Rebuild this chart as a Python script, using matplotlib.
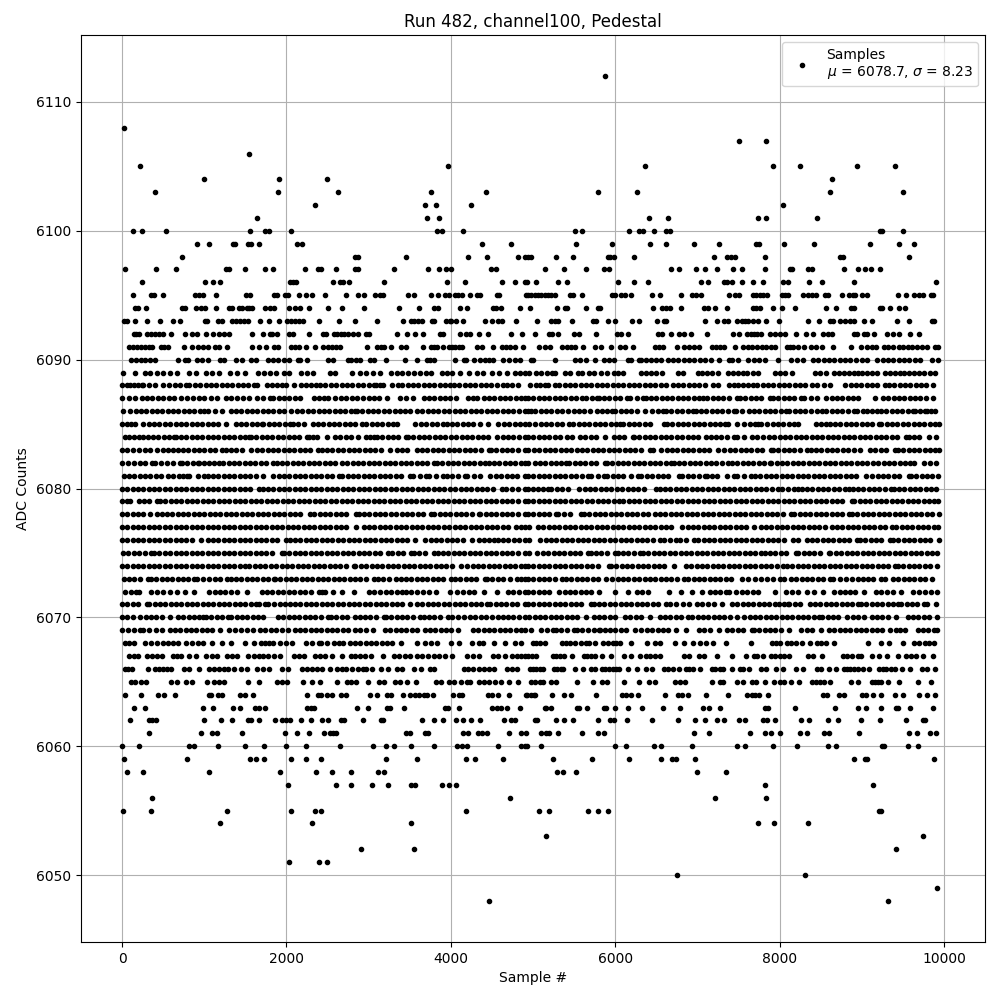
import matplotlib
matplotlib.use('Agg')
from matplotlib import pyplot as plt

# sample numbers, one list per ADC level
s6112 = [5875]
s6108 = [20]
s6107 = [7502,7839]
s6106 = [1550]
s6105 = [213,3960,6357,7924,8249,8948,9405]
s6104 = [996,1912,2490,8634]
s6103 = [406,1900,2622,3755,4430,5791,6261,8610,9502]
s6102 = [2345,3683,3815,4250,8044]
s6101 = [1647,3707,3851,6406,6647,7743,7839,8454]
s6100 = [128,237,538,1562,1743,1791,2056,3827,3887,4152,5514,5598,6165,6285,6333,6478,6622,6671,9225,9249,9502]
s6099 = [912,1056,1345,1370,1526,1574,1671,2128,2189,4381,4731,5526,5960,6418,6622,6960,7261,7719,7755,8056,8418,9104,9454,9634]
s6098 = [731,2839,2875,3454,4213,4442,4815,4900,4944,4980,5285,5490,5912,5936,5984,6225,7201,7357,7405,7454,7827,8740,8770,9574]
s6097 = [32,418,659,1261,1297,1490,1743,1839,2225,2381,2417,2598,2839,2875,3309,3719,3851,3936,4008,4490,4550,5141,5382,5647,5863,5924,6683,6779,6984,7092,7237,7430,7538,7827,8130,8153,8345,8394,8783,8960,9044,9116,9225]
s6096 = [237,1008,1104,1189,2044,2080,2116,2562,2647,2683,2767,3189,3948,4177,4622,4779,4900,4932,5032,5309,5418,6032,6225,6394,7044,7128,7321,7357,7418,7538,7671,7803,8044,8104,8357,8514,8912,9900]
s6095 = [128,357,394,502,888,936,984,1141,1502,1562,1851,1887,1984,2020,2153,2237,2309,2466,2719,2875,2948,3080,3141,3177,3478,3550,3755,3839,3924,3972,4056,4092,4140,4237,4321,4357,4562,4590,4912,4940,4980,5020,5060,5100,5140,5180,5220,5273,5454,5490,5598,5960,5996,6068,6116,6189,6442,6550,6803,6936,6984,7044,7381,7454,7502,7677,7719,7767,7803,7851,8032,8068,8104,8289,8349,8397,8442,8550,8586,8755,8840,8888,8924,9008,9068,9442,9538,9634,9695,9743,9840,9863]
s6094 = [153,189,285,731,767,900,960,1008,1141,1297,1333,1418,1454,1514,1550,1586,1743,1803,1851,2032,2104,2165,2273,2502,2671,2948,3369,3610,3791,3839,4116,4201,4514,4550,4610,4839,4960,5297,5394,5418,5647,5791,5815,6466,6574,6622,6671,6803,7080,7128,7213,7357,7677,7719,7767,7924,8032,8189,8562,8683,8865,8900,9225,9249,9345,9454,9526]
s6093 = [20,56,153,309,466,622,707,1008,1032,1165,1213,1333,1380,1430,1478,1526,1679,1791,1912,2008,2056,2104,2153,2201,2393,2634,2839,3104,3418,3514,3550,3598,3646,3767,3791,3936,3984,4008,4068,4152,4418,4502,4574,4622,4791,5044,5225,5273,5309,5478,5731,5767,5912,5996,6201,6285,6514,6598,6622,7092,7237,7321,7369,7478,7542,7574,7622,7683,7743,7839,7996,8345,8478,8610,8647,8735,8795,8855,8912,9032,9128,9430,9574,9851,9875]
s6092 = [140,170,205,309,357,405,453,501,598,767,851,912,1020,1104,1177,1237,1297,1586,1719,1803,1827,1887,2032,2080,2273,2442,2478,2574,2620,2660,2700,2743,2815,2875,2972,3008,3345,3466,3562,3658,3864,3900,4116,4189,4237,4345,4454,4731,4863,5020,5189,5237,5309,5502,5562,5767,6020,6068,6153,6526,6574,6683,6779,6839,6924,7116,7430,7502,7610,7650,7690,7730,7780,7888,7948,8008,8068,8197,8321,8405,8525,8586,8634,8900,8948,9032,9068,9153,9310,9382,9454,9586,9695]
s6091 = [80,130,180,230,280,330,360,470,515,560,755,845,925,985,1040,1125,1175,1275,1585,1665,1755,1850,1900,2050,2100,2150,2235,2345,2450,2500,2550,2600,2650,2985,3105,3145,3185,3275,3395,3455,3660,3755,3795,3835,3900,3975,4015,4055,4095,4135,4315,4375,4515,4620,4670,4725,4780,4875,5072,5140,5210,5355,5410,5460,5515,5610,5755,5827,5945,6055,6115,6215,6480,6530,6585,6755,6840,6900,6960,7020,7180,7230,7280,7320,7455,7550,7620,7670,7720,7790,7840,7890,7945,8085,8125,8165,8225,8300,8380,8440,8515,8650,8865,8995,9070,9120,9170,9270,9325,9380,9450,9505,9560,9610,9670,9730,9790,9890,9930]
s6090 = [110,170,225,280,335,400,680,760,800,910,975,1040,1190,1245,1390,1465,1565,1630,1780,1840,1900,1965,2030,2140,2170,2250,2510,2570,2745,2790,2850,2900,3020,3070,3210,3440,3585,3705,3750,3800,4045,4155,4190,4285,4360,4420,4470,4515,4640,4710,4775,4840,4975,5005,5265,5515,5575,5645,5755,5865,5925,5985,6155,6195,6285,6310,6375,6440,6500,6555,6640,6705,6770,6835,6900,6965,7030,7095,7160,7260,7380,7420,7500,7620,7685,7750,7820,7985,8145,8215,8285,8405,8470,8535,8600,8665,8730,8795,8860,8925,9000,9070,9190,9255,9320,9385,9450,9515,9580,9645,9710,9850,9925]
s6089 = [10,153,273,340,422,502,580,663,815,904,1024,1100,1177,1317,1400,1490,1659,1730,1800,1870,1968,2028,2177,2250,2329,2530,2590,2803,2892,2970,3050,3133,3273,3340,3410,3480,3550,3625,3695,3755,3896,3948,4016,4116,4217,4317,4397,4506,4590,4679,4779,4840,4900,4950,5040,5100,5170,5230,5270,5390,5450,5550,5600,5680,5740,5830,5900,5980,6040,6090,6310,6380,6440,6500,6570,6770,6830,7010,7060,7120,7180,7250,7370,7430,7490,7550,7610,7680,7740,7950,8010,8070,8150,8430,8490,8570,8660,8720,8780,8840,8900,8950,9000,9060,9130,9190,9280,9340,9400,9460,9520,9580,9640,9700,9760,9830,9890]
s6088 = [0,60,100,140,190,240,260,330,400,500,570,640,710,780,820,885,950,1015,1080,1145,1210,1275,1340,1405,1470,1535,1600,1640,1760,1820,1880,1950,2000,2090,2180,2240,2300,2360,2410,2475,2540,2605,2670,2735,2800,2865,2930,3000,3070,3090,3135,3180,3280,3360,3410,3475,3540,3605,3670,3735,3800,3865,3930,3990,4040,4105,4170,4235,4300,4365,4430,4495,4560,4640,4680,4750,4820,4960,5040,5080,5140,5180,5270,5320,5385,5450,5515,5580,5645,5710,5775,5840,5905,5970,6035,6100,6165,6230,6295,6360,6425,6490,6555,6620,6700,6765,6830,6895,6960,7025,7090,7190,7250,7384,7440,7500,7560,7620,7680,7730,7795,7860,7925,7990,8055,8120,8185,8250,8315,8400,8456,8540,8620,8800,8865,8930,8995,9060,9125,9190,9280,9330,9395,9460,9525,9590,9655,9720,9785,9870]
s6087 = [0,80,160,240,305,370,435,500,565,630,720,790,860,930,1000,1080,1160,1260,1330,1400,1470,1540,1640,1720,1800,1840,1905,1970,2035,2100,2160,2340,2400,2460,2500,2590,2660,2730,2800,2860,2930,3000,3060,3128,3228,3380,3460,3540,3670,3735,3800,3865,3930,3995,4060,4210,4270,4320,4400,4465,4530,4595,4660,4725,4790,4855,4900,4940,5005,5070,5135,5200,5265,5330,5395,5460,5525,5600,5650,5715,5780,5800,5865,5930,5995,6060,6140,6180,6260,6340,6370,6435,6500,6565,6630,6695,6760,6825,6890,6955,7020,7070,7120,7185,7250,7315,7380,7480,7520,7585,7650,7715,7780,7880,7920,7985,8050,8115,8180,8260,8300,8380,8460,8570,8635,8700,8765,8830,8895,8960,9160,9260,9325,9390,9455,9520,9585,9650,9715,9780,9870]
s6086 = [10,100,165,230,295,360,425,490,555,620,685,750,815,880,945,1000,1040,1130,1220,1320,1385,1450,1515,1580,1645,1710,1775,1840,1905,1970,2050,2130,2195,2260,2325,2390,2455,2520,2585,2650,2715,2780,2830,2860,2925,2990,3055,3120,3185,3250,3315,3380,3445,3500,3590,3655,3720,3785,3850,3915,3980,4045,4110,4175,4240,4305,4370,4435,4500,4565,4630,4695,4760,4825,4900,4940,4975,5030,5095,5160,5220,5295,5350,5425,5500,5560,5625,5690,5780,5840,5900,5960,6000,6065,6130,6195,6260,6360,6450,6515,6580,6620,6685,6750,6815,6880,6950,6980,7045,7110,7175,7240,7305,7370,7440,7470,7540,7625,7690,7755,7820,7885,7950,8015,8075,8120,8185,8250,8315,8380,8460,8515,8570,8635,8700,8765,8830,8900,8940,9020,9060,9125,9190,9240,9300,9365,9430,9495,9560,9620,9650,9710,9770,9800,9845,9890]
s6085 = [0,55,110,160,260,325,390,455,520,585,650,715,780,845,910,975,1040,1105,1170,1260,1380,1445,1510,1575,1640,1700,1720,1785,1850,1915,1980,2040,2080,2140,2210,2320,2385,2450,2515,2580,2645,2710,2775,2840,2920,2970,3035,3100,3165,3230,3295,3340,3570,3635,3700,3765,3830,3900,3950,4015,4080,4145,4210,4275,4350,4450,4580,4645,4710,4775,4840,4900,4950,5030,5095,5160,5225,5290,5355,5440,5490,5555,5620,5685,5750,5815,5880,5945,6010,6060,6100,6165,6230,6295,6360,6425,6590,6630,6695,6760,6825,6890,6955,7020,7085,7150,7215,7280,7340,7370,7480,7570,7640,7700,7740,7780,7850,7915,7980,8045,8110,8175,8220,8440,8510,8570,8610,8675,8740,8805,8870,8935,9000,9065,9130,9210,9240,9305,9370,9435,9500,9565,9630,9695,9760,9825,9890,9940]
s6084 = [30,90,150,210,260,310,375,440,505,570,630,650,715,780,845,910,975,1040,1105,1170,1235,1300,1365,1430,1495,1540,1570,1635,1700,1765,1830,1895,1960,2025,2090,2155,2250,2270,2320,2370,2490,2590,2655,2725,2790,2870,2970,3020,3070,3100,3165,3230,3295,3360,3450,3480,3545,3610,3675,3740,3805,3870,3935,4000,4065,4130,4195,4260,4325,4390,4455,4560,4630,4695,4760,4825,4900,4940,5005,5070,5135,5200,5265,5330,5410,5480,5570,5635,5700,5765,5880,5980,6045,6110,6215,6230,6295,6360,6425,6490,6555,6620,6685,6750,6815,6880,6945,7010,7100,7160,7225,7290,7355,7450,7480,7570,7660,7730,7800,7870,7935,8000,8065,8130,8195,8260,8325,8390,8455,8520,8585,8650,8715,8780,8845,8910,8975,9040,9105,9170,9235,9300,9365,9430,9540,9570,9635,9700,9820,9900]
s6083 = [0,65,130,210,275,340,420,500,560,620,680,740,805,870,935,1000,1065,1130,1220,1260,1325,1390,1455,1570,1640,1705,1770,1835,1900,1965,2030,2095,2160,2225,2290,2380,2430,2495,2560,2625,2690,2755,2820,2885,2950,3015,3080,3145,3260,3340,3405,3470,3590,3650,3715,3780,3845,3910,3975,4040,4105,4170,4235,4300,4365,4460,4490,4555,4620,4685,4750,4815,4900,4940,5010,5075,5140,5205,5270,5335,5400,5465,5530,5595,5660,5725,5790,5855,5920,5985,6050,6115,6180,6245,6310,6420,6460,6560,6625,6690,6755,6820,6885,6950,7015,7080,7145,7250,7330,7395,7460,7525,7590,7655,7720,7785,7900,7920,7985,8050,8115,8180,8245,8340,8380,8445,8510,8575,8640,8705,8770,8835,8900,8980,9100,9165,9230,9295,9400,9440,9505,9570,9635,9700,9765,9830,9895,9940]
s6082 = [0,70,140,220,280,360,400,475,550,625,700,730,790,860,920,940,1000,1060,1120,1180,1230,1295,1360,1425,1490,1555,1620,1685,1750,1840,1880,1945,2010,2075,2140,2205,2270,2335,2400,2465,2530,2595,2670,2740,2805,2870,2935,3000,3065,3130,3195,3260,3325,3390,3455,3520,3585,3650,3715,3790,3830,3895,3960,4025,4090,4155,4220,4285,4350,4420,4460,4525,4590,4655,4720,4785,4850,4900,4940,5020,5085,5150,5215,5280,5340,5400,5440,5505,5570,5635,5700,5765,5880,5900,5965,6030,6095,6160,6225,6290,6355,6420,6485,6550,6615,6680,6710,6775,6840,6905,6970,7035,7100,7165,7230,7300,7370,7420,7485,7550,7615,7680,7745,7810,7880,7900,7965,8030,8095,8160,8225,8290,8355,8420,8485,8550,8615,8680,8745,8810,8875,8940,9005,9070,9135,9200,9265,9330,9395,9460,9525,9590,9640,9760,9830,9900]
s6081 = [20,85,150,215,280,345,410,475,560,620,690,740,790,820,920,1000,1040,1105,1170,1235,1300,1365,1430,1495,1560,1625,1720,1840,1905,1970,2035,2100,2165,2230,2295,2360,2425,2490,2555,2640,2680,2745,2810,2875,2940,3005,3070,3135,3200,3265,3330,3395,3500,3540,3620,3700,3740,3825,3910,3950,4015,4090,4170,4200,4280,4360,4480,4550,4615,4680,4745,4810,4900,4940,5005,5070,5135,5200,5265,5330,5395,5460,5525,5600,5670,5710,5785,5860,5900,5970,6040,6100,6190,6280,6320,6385,6450,6515,6580,6645,6780,6810,6880,6950,7020,7090,7120,7180,7240,7360,7440,7480,7565,7650,7700,7765,7830,7895,7960,8025,8090,8155,8220,8285,8350,8415,8480,8545,8610,8675,8740,8805,8870,8935,9050,9130,9195,9260,9325,9390,9455,9570,9600,9665,9730,9795,9860,9930]
s6080 = [0,65,130,195,260,325,390,455,520,585,650,715,780,845,910,975,1040,1105,1170,1235,1300,1365,1430,1495,1560,1660,1710,1775,1840,1905,1970,2035,2100,2165,2230,2295,2360,2425,2490,2555,2620,2685,2750,2815,2880,2945,3010,3075,3140,3205,3270,3335,3400,3465,3530,3595,3660,3725,3790,3855,3920,3985,4050,4120,4185,4250,4315,4380,4445,4510,4620,4670,4740,4820,4900,4940,5000,5060,5120,5180,5225,5290,5355,5430,5560,5630,5695,5760,5825,5890,5955,6020,6085,6150,6215,6280,6345,6500,6540,6605,6670,6735,6800,6865,6930,6995,7060,7125,7190,7255,7320,7385,7450,7515,7580,7645,7710,7775,7840,7905,7980,8025,8100,8180,8225,8270,8335,8400,8465,8530,8595,8660,8725,8800,8840,8890,8955,9020,9085,9150,9215,9280,9360,9390,9455,9520,9585,9650,9715,9780,9845,9900]
s6079 = [0,55,100,200,265,330,420,460,525,590,655,720,785,850,915,980,1045,1110,1175,1240,1305,1370,1435,1500,1565,1630,1695,1760,1825,1890,1955,2020,2085,2150,2215,2280,2345,2410,2475,2540,2605,2670,2735,2800,2865,2930,2995,3060,3125,3190,3255,3320,3385,3450,3515,3580,3645,3710,3775,3840,3905,3970,4035,4100,4165,4230,4295,4360,4425,4490,4555,4620,4685,4750,4815,4900,4940,5005,5070,5135,5200,5265,5330,5395,5460,5525,5590,5655,5720,5785,5850,5915,5980,6045,6100,6165,6230,6295,6360,6425,6490,6555,6620,6685,6750,6815,6880,6945,7010,7075,7140,7205,7270,7335,7400,7465,7530,7595,7660,7725,7790,7855,7920,7985,8050,8115,8180,8245,8310,8375,8440,8505,8570,8635,8700,8765,8880,8910,8975,9040,9105,9170,9235,9300,9365,9430,9495,9560,9625,9690,9755,9820,9885,9930]
s6078 = [0,65,130,195,260,340,420,480,545,610,675,740,805,870,935,1000,1065,1130,1195,1260,1325,1390,1455,1520,1585,1650,1715,1780,1845,1910,1975,2040,2105,2170,2290,2340,2405,2470,2535,2600,2665,2730,2850,2880,2945,3010,3075,3140,3205,3270,3335,3400,3465,3530,3595,3660,3760,3800,3865,3930,3995,4060,4125,4190,4255,4340,4360,4425,4490,4555,4620,4685,4750,4815,4900,4940,5005,5070,5135,5200,5280,5310,5380,5450,5580,5620,5685,5750,5815,5880,5945,6010,6075,6140,6205,6270,6335,6400,6480,6545,6610,6675,6740,6805,6870,6935,7000,7065,7130,7195,7260,7325,7390,7455,7520,7585,7650,7715,7780,7845,7910,7975,8040,8140,8180,8245,8310,8375,8440,8505,8570,8635,8700,8765,8840,8880,8945,9010,9075,9140,9205,9270,9335,9400,9465,9530,9595,9660,9725,9790,9855,9940]
s6077 = [0,65,130,195,260,325,390,455,520,585,650,715,780,845,910,975,1040,1105,1170,1235,1300,1365,1430,1495,1560,1625,1690,1755,1820,1885,1950,2015,2080,2145,2210,2275,2340,2405,2470,2535,2600,2665,2730,2850,2940,3005,3070,3135,3200,3265,3330,3395,3460,3525,3590,3655,3720,3785,3850,3915,3980,4045,4110,4175,4240,4305,4370,4435,4500,4565,4630,4695,4790,4850,4900,4950,5060,5125,5190,5255,5320,5385,5450,5515,5580,5645,5710,5775,5840,5905,5970,6035,6100,6165,6230,6295,6360,6425,6490,6555,6620,6685,6810,6880,6945,7010,7075,7140,7205,7270,7335,7400,7465,7530,7595,7690,7770,7835,7900,7965,8030,8095,8160,8225,8290,8355,8420,8485,8550,8640,8700,8765,8830,8895,8960,9025,9090,9155,9220,9285,9370,9420,9485,9550,9615,9680,9745,9810,9875,9930]
s6076 = [0,65,130,195,260,325,390,455,520,585,650,715,780,845,960,1040,1105,1170,1235,1300,1365,1430,1495,1560,1625,1690,1755,1820,1885,1990,2040,2105,2170,2235,2300,2365,2430,2495,2560,2625,2690,2755,2820,2885,2950,3015,3080,3145,3210,3275,3340,3405,3470,3570,3690,3755,3820,3885,3950,4015,4080,4145,4260,4340,4400,4460,4520,4570,4635,4700,4765,4830,4900,4950,5090,5155,5220,5285,5350,5415,5480,5545,5610,5675,5740,5805,5870,5935,6000,6065,6130,6195,6260,6325,6390,6455,6540,6600,6670,6740,6790,6860,6960,7010,7075,7140,7205,7270,7335,7400,7465,7530,7595,7660,7725,7790,7855,7920,7985,8050,8160,8230,8330,8395,8460,8525,8590,8655,8720,8785,8850,8940,8980,9045,9110,9175,9240,9340,9380,9445,9510,9575,9640,9705,9770,9835,9940]
s6075 = [10,75,140,210,280,350,390,455,520,585,650,715,780,845,910,975,1040,1105,1170,1235,1300,1365,1430,1495,1560,1625,1690,1755,1820,1940,1970,2035,2100,2165,2230,2295,2360,2425,2490,2555,2620,2685,2750,2815,2880,2945,3010,3075,3140,3240,3290,3355,3420,3520,3550,3615,3680,3790,3840,3905,3970,4035,4100,4165,4230,4295,4360,4425,4490,4555,4620,4685,4750,4815,4900,4950,5050,5120,5185,5250,5315,5380,5445,5510,5575,5670,5700,5765,5830,5895,6000,6030,6095,6160,6225,6300,6340,6405,6470,6535,6600,6665,6730,6795,6860,6925,6990,7055,7120,7185,7250,7315,7380,7445,7510,7575,7640,7705,7780,7820,7885,7950,8015,8080,8200,8230,8295,8360,8425,8490,8600,8620,8685,8750,8815,8880,8945,9010,9075,9140,9205,9270,9335,9400,9465,9530,9595,9660,9725,9790,9855,9920]
s6074 = [0,65,130,195,260,325,390,455,520,585,650,715,780,845,910,975,1040,1105,1170,1235,1300,1365,1430,1500,1550,1615,1680,1745,1810,1875,1940,2005,2070,2135,2200,2265,2330,2395,2460,2525,2590,2655,2720,2820,2840,2905,2970,3035,3100,3165,3230,3295,3360,3425,3490,3555,3620,3685,3750,3815,3880,3945,4010,4120,4200,4265,4330,4395,4460,4525,4590,4655,4720,4785,4850,4900,4940,5005,5070,5135,5200,5265,5330,5395,5460,5525,5590,5655,5720,5785,5920,5950,6015,6080,6145,6210,6275,6340,6405,6470,6535,6600,6710,6860,6925,6990,7055,7120,7185,7250,7315,7380,7445,7510,7575,7640,7705,7770,7835,7900,7965,8040,8090,8155,8220,8285,8350,8415,8480,8545,8610,8675,8740,8805,8870,8935,9000,9065,9130,9195,9260,9325,9400,9440,9505,9570,9635,9700,9765,9830,9920]
s6073 = [20,85,150,215,310,350,415,480,545,610,675,740,805,880,910,985,1060,1130,1190,1280,1320,1385,1450,1515,1580,1645,1710,1775,1850,1860,1925,1990,2055,2120,2185,2250,2315,2380,2445,2510,2575,2640,2705,2770,2835,2900,2965,3060,3110,3170,3250,3330,3390,3455,3520,3585,3650,3715,3780,3845,3910,4000,4050,4115,4180,4245,4310,4420,4440,4505,4570,4635,4720,4800,4850,4900,4940,5005,5070,5135,5200,5265,5350,5400,5465,5530,5595,5660,5725,5790,5890,5960,6030,6100,6150,6230,6295,6360,6425,6490,6555,6620,6685,6750,6840,6890,6955,7020,7085,7150,7215,7280,7345,7410,7540,7620,7700,7780,7850,7920,8000,8060,8140,8205,8270,8335,8400,8465,8530,8620,8650,8730,8810,8880,8960,9010,9075,9140,9240,9280,9380,9445,9510,9575,9640,9705,9770,9860]
s6072 = [40,110,165,210,350,425,500,580,670,760,880,1060,1125,1190,1255,1320,1400,1520,1700,1765,1830,1895,1960,2025,2090,2160,2230,2300,2400,2430,2470,2570,2680,2820,3000,3070,3140,3210,3270,3340,3400,3460,3510,3585,3660,3735,3820,3990,4080,4150,4220,4280,4400,4560,4690,4760,4830,4900,4940,5005,5070,5135,5200,5320,5385,5450,5515,5580,5645,5710,5800,6000,6155,6260,6330,6400,6650,6800,6940,7060,7150,7215,7280,7345,7390,7470,7540,7610,7680,7740,7950,8080,8150,8220,8340,8420,8530,8660,8730,8800,8860,8920,9030,9170,9240,9310,9380,9480,9620,9695,9770,9845,9920]
s6071 = [0,65,130,195,300,330,395,460,525,590,655,720,785,850,915,980,1045,1110,1175,1240,1305,1370,1435,1500,1565,1630,1670,1740,1780,1850,1920,1980,2040,2105,2170,2235,2300,2365,2430,2495,2560,2625,2690,2755,2820,2885,2950,3015,3090,3150,3215,3280,3345,3410,3500,3590,3655,3720,3785,3850,3915,3980,4045,4110,4175,4240,4305,4370,4440,4480,4545,4610,4675,4740,4805,4900,4940,5005,5070,5135,5200,5265,5330,5395,5460,5525,5590,5700,5740,5805,5870,5935,6000,6065,6130,6195,6260,6325,6390,6455,6520,6620,6670,6740,6820,6900,7000,7060,7130,7200,7300,7420,7485,7550,7615,7680,7745,7810,7875,7940,7990,8050,8100,8120,8185,8250,8370,8430,8495,8560,8625,8690,8755,8820,8885,8960,8990,9055,9120,9185,9250,9315,9380,9440,9480,9545,9610,9675,9760,9800,9900]
s6070 = [0,65,130,220,285,350,415,480,580,680,745,810,875,940,990,1020,1085,1150,1215,1290,1330,1395,1460,1525,1590,1655,1720,1900,1960,2025,2090,2155,2220,2285,2350,2415,2500,2540,2605,2670,2735,2830,2890,2950,3020,3090,3190,3210,3275,3340,3405,3470,3535,3630,3670,3735,3800,3865,3960,4020,4090,4160,4230,4300,4365,4430,4500,4570,4630,4695,4760,4825,4900,4950,5020,5085,5150,5215,5280,5345,5410,5475,5540,5650,5740,5805,5870,5935,6000,6120,6185,6250,6315,6420,6540,6605,6670,6735,6800,6880,6940,7005,7070,7135,7200,7265,7330,7400,7480,7570,7635,7700,7765,7830,7900,7960,8025,8090,8155,8220,8285,8350,8415,8480,8520,8585,8650,8715,8820,8890,8960,9030,9120,9180,9250,9320,9420,9560,9625,9690,9755,9820,9920]
s6069 = [0,70,140,220,250,330,410,490,580,640,710,775,840,905,970,1035,1100,1190,1300,1375,1450,1520,1590,1680,1745,1810,1875,1940,2020,2100,2165,2230,2295,2360,2425,2490,2555,2620,2685,2750,2830,2890,2970,3050,3200,3265,3330,3395,3460,3525,3590,3680,3745,3810,3875,3940,4005,4090,4270,4335,4400,4465,4530,4595,4660,4725,4790,4855,4900,4980,5100,5170,5240,5280,5345,5410,5500,5530,5600,5670,5740,5800,5820,5880,5940,6000,6065,6130,6240,6320,6385,6450,6515,6580,6645,6740,6860,7020,7085,7150,7260,7360,7425,7490,7555,7660,7690,7755,7820,7885,7950,8015,8120,8260,8330,8400,8500,8600,8665,8730,8795,8860,8925,8990,9055,9120,9185,9250,9340,9420,9470,9530,9680,9745,9810,9875,9920]
s6068 = [30,85,140,280,350,430,500,560,620,680,780,850,920,980,1100,1220,1330,1500,1610,1690,1740,1790,1840,1920,1990,2070,2240,2315,2390,2420,2490,2580,2635,2690,2770,2835,2900,2965,3030,3095,3160,3225,3290,3390,3590,3690,3760,3830,4000,4100,4260,4340,4390,4520,4660,4780,4860,5000,5040,5090,5140,5350,5400,5450,5510,5590,5640,5680,5750,5850,5915,5970,6010,6060,6189,6390,6480,6546,6730,6840,6950,7030,7100,7185,7345,7647,7910,7960,8000,8090,8140,8200,8270,8370,8450,8510,8570,8660,9080,9240,9330,9500,9640,9700,9770,9820,9880]
s6067 = [80,140,190,300,360,420,480,620,670,720,820,900,1020,1090,1160,1280,1340,1400,1530,1600,1670,1710,1780,1850,1920,2090,2150,2210,2350,2410,2470,2550,2680,2790,2840,2890,2950,3030,3180,3310,3375,3440,3505,3590,3650,3720,3790,3860,3930,4020,4200,4270,4340,4510,4580,4660,4740,4800,4850,4900,4940,4990,5040,5240,5280,5330,5380,5480,5620,5660,5700,5760,5840,5950,6104,6189,6297,6370,6420,6490,6550,6840,6900,7020,7080,7237,7418,7586,7690,7730,7800,7900,7950,8000,8060,8120,8350,8410,8520,8770,8820,8880,8950,8990,9120,9210,9310,9442,9538,9600,9660,9740,9870]
s6066 = [30,70,115,310,400,450,500,550,600,755,820,935,1060,1120,1180,1240,1285,1365,1445,1520,1645,1715,1785,1945,2020,2190,2250,2310,2370,2430,2530,2610,2670,2730,2800,2870,2930,2970,3040,3145,3230,3345,3410,3555,3635,3745,3800,4155,4215,4275,4340,4405,4460,4520,4680,4745,4805,4960,5000,5040,5080,5120,5250,5290,5340,5370,5516,5612,5700,5755,5840,5880,5930,5970,6010,6050,6153,6269,6370,6442,6600,6640,6700,6780,6860,6900,6950,7030,7180,7220,7280,7310,7418,7520,7560,7630,7775,7840,7960,8040,8201,8289,8460,8500,8600,8683,8780,8820,8860,8900,8950,9010,9093,9210,9260,9300,9360,9400,9490,9590,9730,9790,9887]
s6065 = [105,160,225,297,598,671,779,851,1032,1120,1180,1237,1538,1671,1890,1950,2008,2201,2309,2406,2610,2731,2791,2851,2996,3129,3189,3321,3382,3466,3574,3815,3875,3972,4044,4128,4201,4237,4345,4405,4465,4540,4610,4707,4815,4980,5030,5080,5120,5213,5285,5538,5731,5840,5900,6104,6285,6406,6490,6730,6790,6851,7173,7273,7309,7486,7558,7666,7715,7827,7936,8008,8052,8137,8237,8398,8440,8490,8540,8610,8867,8960,9120,9160,9200,9240,9320,9454,9683,9840]
s6064 = [32,225,442,514,647,1056,1080,1165,1213,1430,1490,1598,2249,2382,2418,2490,2550,2659,2719,3020,3104,3225,3273,3418,3502,3562,3610,3670,3707,3779,4032,4104,4140,4454,4502,4574,4707,4912,4932,4970,5010,5030,5237,5382,5458,5767,6081,6129,6189,6281,6610,6767,6815,6888,7104,7369,7610,7660,7700,7750,7860,8530,8578,8719,8779,9008,9056,9136,9237,9405,9502,9695,9791,9887]
s6063 = [141,273,984,1104,1345,1430,1622,1671,1743,2249,2297,2333,2863,2996,3225,3261,3430,3924,3960,4104,4502,4562,4610,4683,4839,5140,5160,5225,5530,5554,5659,5865,5888,6000,6153,6321,6586,6791,7068,7141,7273,7827,7863,8189,8670,8960,9056,9237,9418,9442,9586,9868]
s6062 = [92,333,369,418,996,1201,1333,1538,1574,1671,1863,1948,1996,2044,2177,2297,2430,2502,2659,2695,2936,3153,3177,3647,3791,3900,4068,4152,4249,4357,4647,4731,4779,5020,5044,5285,5382,5490,5791,5936,5984,6141,6454,6767,6972,7092,7237,7321,7510,7582,7803,7851,7948,8261,8357,8586,8707,8996,9225,9538,9751,9775]
s6061 = [333,960,1092,1153,1454,1984,2128,2273,2454,2526,2562,2598,3454,3502,3683,3719,4153,4213,4333,4381,4442,4707,4851,4912,5092,5153,5189,5309,5598,5791,5863,6960,7141,7635,7827,7899,8008,8249,8333,8538,8598,8972,9574,9671,9835,9908]
s6060 = [0,201,815,876,1165,1490,1731,1996,2237,2647,3056,3213,3309,3514,3791,4080,4140,4201,4574,4851,4900,4932,5092,6000,6129,6478,6562,6936,7478,7574,7924,8213,8586,8683,9249,9273,9562,9683]
s6059 = [20,791,1562,1634,1731,2056,2237,2418,3213,3586,4189,4297,4634,5249,5719,6165,6562,6695,6743,6972,8912,9044,9068,9875]
s6058 = [56,249,1056,1924,2357,2550,2791,3116,3189,5297,5369,5526,6996,7345]
s6057 = [2020,2598,2791,3044,3237,3514,3562,3887,3972,4068,7827,9140]
s6056 = [369,4719,7213,7839]
s6055 = [8,357,1273,2056,2345,2418,4189,5068,5189,5670,5791,5912,9213,9237]
s6054 = [1189,2309,3514,7743,7936,8345]
s6053 = [5153,9743]
s6052 = [2912,3550,9418]
s6051 = [2032,2393,2490]
s6050 = [6755,8309]
s6049 = [9912]
s6048 = [4466,9321]

adc_levels = [6112,6108,6107,6106,6105,6104,6103,6102,6101,6100,6099,6098,6097,6096,6095,6094,6093,6092,6091,6090,
              6089,6088,6087,6086,6085,6084,6083,6082,6081,6080,6079,6078,6077,6076,6075,6074,6073,6072,6071,6070,
              6069,6068,6067,6066,6065,6064,6063,6062,6061,6060,6059,6058,6057,6056,6055,6054,6053,6052,6051,6050,6049,6048]
rows = [s6112,s6108,s6107,s6106,s6105,s6104,s6103,s6102,s6101,s6100,s6099,s6098,s6097,s6096,s6095,s6094,s6093,s6092,s6091,s6090,
        s6089,s6088,s6087,s6086,s6085,s6084,s6083,s6082,s6081,s6080,s6079,s6078,s6077,s6076,s6075,s6074,s6073,s6072,s6071,s6070,
        s6069,s6068,s6067,s6066,s6065,s6064,s6063,s6062,s6061,s6060,s6059,s6058,s6057,s6056,s6055,s6054,s6053,s6052,s6051,s6050,s6049,s6048]

x = []
y = []
for level, row in zip(adc_levels, rows):
    x += row
    y += [level] * len(row)

plt.figure(figsize=(10, 10))
plt.plot(x, y, 'k.', label='Samples\n$\\mu$ = 6078.7, $\\sigma$ = 8.23')
plt.xlim(-500, 10500)
plt.title('Run 482, channel100, Pedestal')
plt.xlabel('Sample #')
plt.ylabel('ADC Counts')
plt.grid(True)
plt.legend(loc='upper right')
plt.subplots_adjust(left=0.081, right=0.985, top=0.965, bottom=0.058)
plt.savefig('out.png', dpi=100)
